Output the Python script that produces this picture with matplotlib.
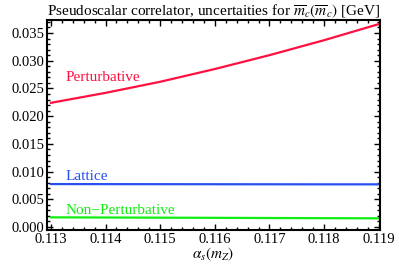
import numpy as np
import matplotlib
matplotlib.use('Agg')
import matplotlib.pyplot as plt
from matplotlib.ticker import MultipleLocator, FormatStrFormatter

plt.rcParams['font.family'] = ['Liberation Serif', 'DejaVu Serif']
plt.rcParams['mathtext.fontset'] = 'stix'

# alpha_s(m_Z) grid and uncertainties in GeV
alpha_s = [0.113, 0.114, 0.115, 0.116, 0.117, 0.118, 0.119]
perturbative = [0.0224, 0.0242, 0.0262, 0.0285, 0.0310, 0.0337, 0.0366]
lattice = [0.00775, 0.00774, 0.00773, 0.00772, 0.00771, 0.00770, 0.00770]
non_perturbative = [0.00175, 0.00172, 0.00169, 0.00166, 0.00163, 0.00160, 0.00157]

red = '#ff1040'
blue = '#2850f0'
green = '#10ee10'

fig = plt.figure(figsize=(3.99, 2.66), dpi=100, facecolor='white')
ax = fig.add_axes([0.118, 0.135, 0.834, 0.79])

ax.plot(alpha_s, perturbative, color=red, lw=1.6)
ax.plot(alpha_s, lattice, color=blue, lw=1.6)
ax.plot(alpha_s, non_perturbative, color=green, lw=1.6)

ax.text(0.11327, 0.0263, 'Perturbative', color=red, fontsize=11)
ax.text(0.11327, 0.0085, 'Lattice', color=blue, fontsize=11)
ax.text(0.11327, 0.0024, 'Non\u2212Perturbative', color=green, fontsize=11)

ax.set_xlim(0.11293, 0.11902)
ax.set_ylim(-0.00055, 0.03735)

ax.xaxis.set_major_locator(MultipleLocator(0.001))
ax.xaxis.set_minor_locator(MultipleLocator(0.0002))
ax.yaxis.set_major_locator(MultipleLocator(0.005))
ax.yaxis.set_minor_locator(MultipleLocator(0.001))
ax.xaxis.set_major_formatter(FormatStrFormatter('%.3f'))
ax.yaxis.set_major_formatter(FormatStrFormatter('%.3f'))

ax.tick_params(which='both', direction='in', top=True, right=True,
               labelsize=10.5, width=1, pad=2)
ax.tick_params(which='major', length=4)
ax.tick_params(which='minor', length=2)
for s in ax.spines.values():
    s.set_linewidth(1.5)

ax.set_xlabel(r'$\alpha_s(m_Z)$', fontsize=11, labelpad=0)
ax.set_title(r'Pseudoscalar correlator, uncertaities for $\overline{m}_c(\overline{m}_c)$ [GeV]',
             fontsize=11, pad=2)

fig.savefig('out.png', dpi=100, facecolor='white')
